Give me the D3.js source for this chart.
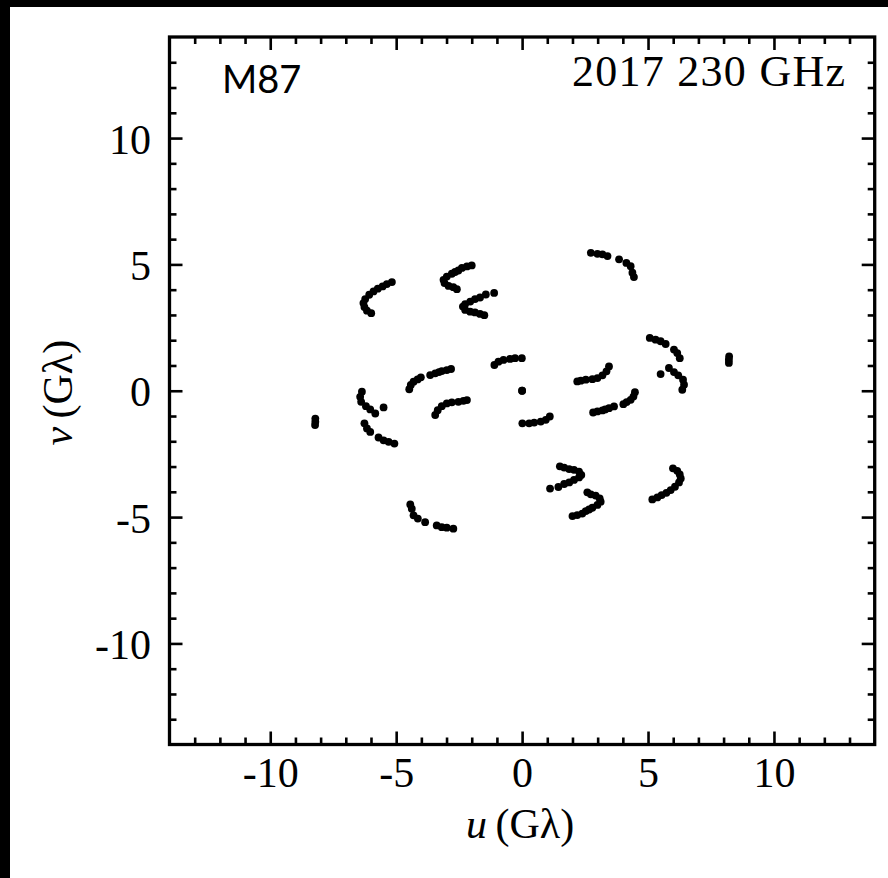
<!DOCTYPE html>
<html>
<head>
<meta charset="utf-8">
<script src="https://cdn.jsdelivr.net/npm/d3@7"></script>
<style>
  html, body { margin: 0; padding: 0; background: #fff; }
  svg { display: block; }
  .tick text { font-family: "Liberation Serif", "DejaVu Serif", serif; font-size: 42px; fill: #000; }
</style>
</head>
<body>
<svg id="chart" width="888" height="878"></svg>
<script>
// uv tracks, one array per baseline (u, v in G-lambda).
// Only one half is listed: each point is also drawn at its conjugate (-u, -v).
const trackA = [[-5.17, 4.30], [-5.37, 4.22], [-5.54, 4.13], [-5.73, 4.04], [-5.90, 3.93], [-6.07, 3.80],
  [-6.23, 3.63], [-6.30, 3.47], [-6.26, 3.31], [-6.16, 3.17], [-5.99, 3.07]];
const trackB = [[-2.00, 4.96], [-2.19, 4.92], [-2.39, 4.86], [-2.53, 4.76], [-2.66, 4.70], [-2.79, 4.63],
  [-2.99, 4.52], [-3.12, 4.39], [-3.08, 4.26], [-2.92, 4.15], [-2.73, 4.10], [-2.59, 4.02]];
const trackC = [[-1.11, 3.87], [-1.44, 3.81], [-1.67, 3.69], [-1.87, 3.63], [-2.06, 3.53], [-2.26, 3.43],
  [-2.35, 3.33], [-2.26, 3.20], [-2.06, 3.13], [-1.87, 3.10], [-1.67, 3.04], [-1.50, 2.99]];
const trackD = [[-4.48, 0.06], [-4.42, 0.23], [-4.31, 0.36], [-4.15, 0.45], [-4.02, 0.53],
  [-3.65, 0.62], [-3.45, 0.69], [-3.30, 0.74], [-3.19, 0.78], [-2.99, 0.82], [-2.82, 0.86]];
const trackE = [[-3.45, -0.96], [-3.35, -0.77], [-3.19, -0.61], [-2.99, -0.50], [-2.79, -0.46],
  [-2.53, -0.44], [-2.33, -0.40], [-2.19, -0.37]];
const trackF = [[-1.10, 1.02], [-0.94, 1.15], [-0.74, 1.22], [-0.48, 1.26], [-0.28, 1.29], [-0.01, 1.29]];
const trackG = [[-6.36, -0.04], [-6.43, -0.24], [-6.39, -0.44], [-6.20, -0.61], [-6.03, -0.74], [-5.83, -0.90],
  [-5.50, -0.66], [-6.26, -1.29], [-6.16, -1.49], [-6.03, -1.63], [-5.70, -1.85], [-5.50, -1.96],
  [-5.30, -2.02], [-5.07, -2.09]];
const trackH = [[-4.44, -4.50], [-4.38, -4.67], [-4.31, -4.93], [-4.14, -5.06], [-3.85, -5.20],
  [-3.39, -5.33], [-3.19, -5.40], [-2.99, -5.42], [-2.73, -5.46]];
const trackLong = [[-8.21, -1.10], [-8.21, -1.23], [-8.22, -1.36]];
const trackShort = [[0.0, 0.0]];

const majorTicks = [-10, -5, 0, 5, 10];
const minorTicks = d3.range(-13, 14).filter(d => d % 5 !== 0);

const sourceLabel = "M87";
const bandLabel = "2017 230 GHz";

const tracks = [trackA, trackB, trackC, trackD, trackE, trackF, trackG, trackH, trackLong, trackShort];
const points = [];
tracks.forEach(t => t.forEach(([u, v]) => {
  points.push([u, v]);
  points.push([-u, -v]);
}));

const svg = d3.select("#chart");
const plotLeft = 169.5, plotRight = 874.7, plotTop = 37, plotBottom = 744.5;

// black edge strips seen in the reference image
svg.append("rect").attr("x", 0).attr("y", 0).attr("width", 888).attr("height", 7).attr("fill", "#000");
svg.append("rect").attr("x", 0).attr("y", 0).attr("width", 10).attr("height", 878).attr("fill", "#000");

const x = d3.scaleLinear().domain([-14, 14]).range([plotLeft, plotRight]);
const y = d3.scaleLinear().domain([-14, 14]).range([plotBottom, plotTop]);

const fmt = d => String(d);

function drawAxis(gen, tx, ty, ticks, size, labels) {
  const g = svg.append("g").attr("transform", `translate(${tx},${ty})`)
    .call(gen.tickValues(ticks).tickSize(-size).tickFormat(labels ? fmt : () => ""));
  g.select(".domain").remove();
  g.selectAll(".tick line").attr("stroke", "#000").attr("stroke-width", 2.6);
  return g;
}

// minor ticks on every side
drawAxis(d3.axisBottom(x), 0, plotBottom, minorTicks, 7, false);
drawAxis(d3.axisTop(x), 0, plotTop, minorTicks, 7, false);
drawAxis(d3.axisLeft(y), plotLeft, 0, minorTicks, 7, false);
drawAxis(d3.axisRight(y), plotRight, 0, minorTicks, 7, false);

// major ticks
const xb = drawAxis(d3.axisBottom(x), 0, plotBottom, majorTicks, 13, true);
xb.selectAll(".tick text").attr("y", 42.5).attr("dy", null).attr("text-anchor", "middle");
drawAxis(d3.axisTop(x), 0, plotTop, majorTicks, 13, false);
const yl = drawAxis(d3.axisLeft(y), plotLeft, 0, majorTicks, 13, true);
yl.selectAll(".tick text").attr("x", -18.5).attr("dy", "15").attr("text-anchor", "end");
drawAxis(d3.axisRight(y), plotRight, 0, majorTicks, 13, false);

// frame
svg.append("rect")
  .attr("x", plotLeft).attr("y", plotTop)
  .attr("width", plotRight - plotLeft).attr("height", plotBottom - plotTop)
  .attr("fill", "none").attr("stroke", "#000").attr("stroke-width", 3.3);

// uv points
svg.append("g").selectAll("circle")
  .data(points)
  .join("circle")
  .attr("cx", d => x(d[0]))
  .attr("cy", d => y(d[1]))
  .attr("r", 3.9)
  .attr("fill", "#000");

// annotations
svg.append("text")
  .attr("x", 222).attr("y", 93)
  .attr("font-family", "Lato, 'Noto Sans', sans-serif")
  .attr("font-size", 38)
  .attr("fill", "#000")
  .text(sourceLabel);

svg.append("text")
  .attr("x", 572).attr("y", 86)
  .attr("font-family", "'Liberation Serif', serif")
  .attr("font-size", 44)
  .attr("textLength", 273)
  .attr("lengthAdjust", "spacing")
  .attr("fill", "#000")
  .text(bandLabel);

// axis titles
const xt = svg.append("text")
  .attr("x", (plotLeft + plotRight) / 2 - 2).attr("y", 838)
  .attr("text-anchor", "middle")
  .attr("font-family", "'Liberation Serif', serif")
  .attr("font-size", 42)
  .attr("fill", "#000");
xt.append("tspan").attr("font-style", "italic").text("u");
xt.append("tspan").text("\u2009(Gλ)");

const yt = svg.append("text")
  .attr("transform", `translate(72,${(plotTop + plotBottom) / 2 + 2}) rotate(-90)`)
  .attr("text-anchor", "middle")
  .attr("font-family", "'Liberation Serif', serif")
  .attr("font-size", 42)
  .attr("fill", "#000");
yt.append("tspan").attr("font-style", "italic").text("v");
yt.append("tspan").text("\u2009(Gλ)");
</script>
</body>
</html>
